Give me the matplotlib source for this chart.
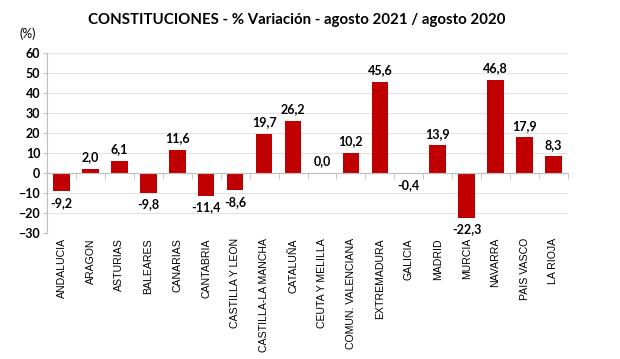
import numpy as np
import matplotlib.pyplot as plt
import matplotlib.transforms as mtransforms

plt.rcParams['font.family'] = ['Lato', 'DejaVu Sans']

regiones = ["ANDALUCIA", "ARAGON", "ASTURIAS", "BALEARES", "CANARIAS", "CANTABRIA",
            "CASTILLA Y LEON", "CASTILLA-LA MANCHA", "CATALUÑA", "CEUTA Y MELILLA",
            "COMUN. VALENCIANA", "EXTREMADURA", "GALICIA", "MADRID", "MURCIA",
            "NAVARRA", "PAIS VASCO", "LA RIOJA"]
variacion = [-9.2, 2.0, 6.1, -9.8, 11.6, -11.4, -8.6, 19.7, 26.2, 0.0,
             10.2, 45.6, -0.4, 13.9, -22.3, 46.8, 17.9, 8.3]

fig = plt.figure(figsize=(6.2, 3.59), dpi=100)
ax = fig.add_axes([0.076, 0.351, 0.84, 0.501])

x = np.arange(len(regiones))
ax.bar(x, variacion, width=0.57, color='#C00000', zorder=3)

ax.set_xlim(-0.5, len(regiones) - 0.5)
ax.set_ylim(-30, 60)
ax.set_yticks(np.arange(-30, 61, 10))
ax.tick_params(axis='y', labelsize=9, length=3, color='#bfbfbf', pad=2)
for lab in ax.get_yticklabels():
    lab.set_fontweight('bold')
ax.grid(axis='y', color='#e3e3e3', linewidth=0.8, zorder=0)

for s in ['top', 'right']:
    ax.spines[s].set_visible(False)
ax.spines['left'].set_color('#bfbfbf')
ax.spines['bottom'].set_position(('data', 0))
ax.spines['bottom'].set_color('#bfbfbf')
ax.spines['bottom'].set_zorder(4)

ax.set_xticks(x)
ax.set_xticklabels([])
ax.tick_params(axis='x', which='major', length=0)
ax.set_xticks(np.arange(len(regiones) + 1) - 0.5, minor=True)
ax.tick_params(axis='x', which='minor', length=4, color='#bfbfbf', direction='out')

trans = mtransforms.blended_transform_factory(ax.transData, ax.transAxes)
for xi, name in zip(x, regiones):
    ax.text(xi, -0.028, name, transform=trans, rotation=90, ha='center', va='top',
            fontsize=7.6, family=['Liberation Sans', 'DejaVu Sans'])

for xi, v in zip(x, variacion):
    txt = f"{v:.1f}".replace('.', ',')
    if v >= 0:
        ax.annotate(txt, (xi, v), xytext=(0, 4), textcoords='offset points',
                    ha='center', va='bottom', fontsize=9, fontweight='bold')
    else:
        ax.annotate(txt, (xi, v), xytext=(0, -4), textcoords='offset points',
                    ha='center', va='top', fontsize=9, fontweight='bold')

fig.text(0.478, 0.945, "CONSTITUCIONES - % Variación - agosto 2021 / agosto 2020",
         ha='center', va='center', fontsize=10.8, fontweight='bold')
fig.text(0.045, 0.905, "(%)", ha='center', va='center', fontsize=9)

fig.savefig('out.png', dpi=100)
